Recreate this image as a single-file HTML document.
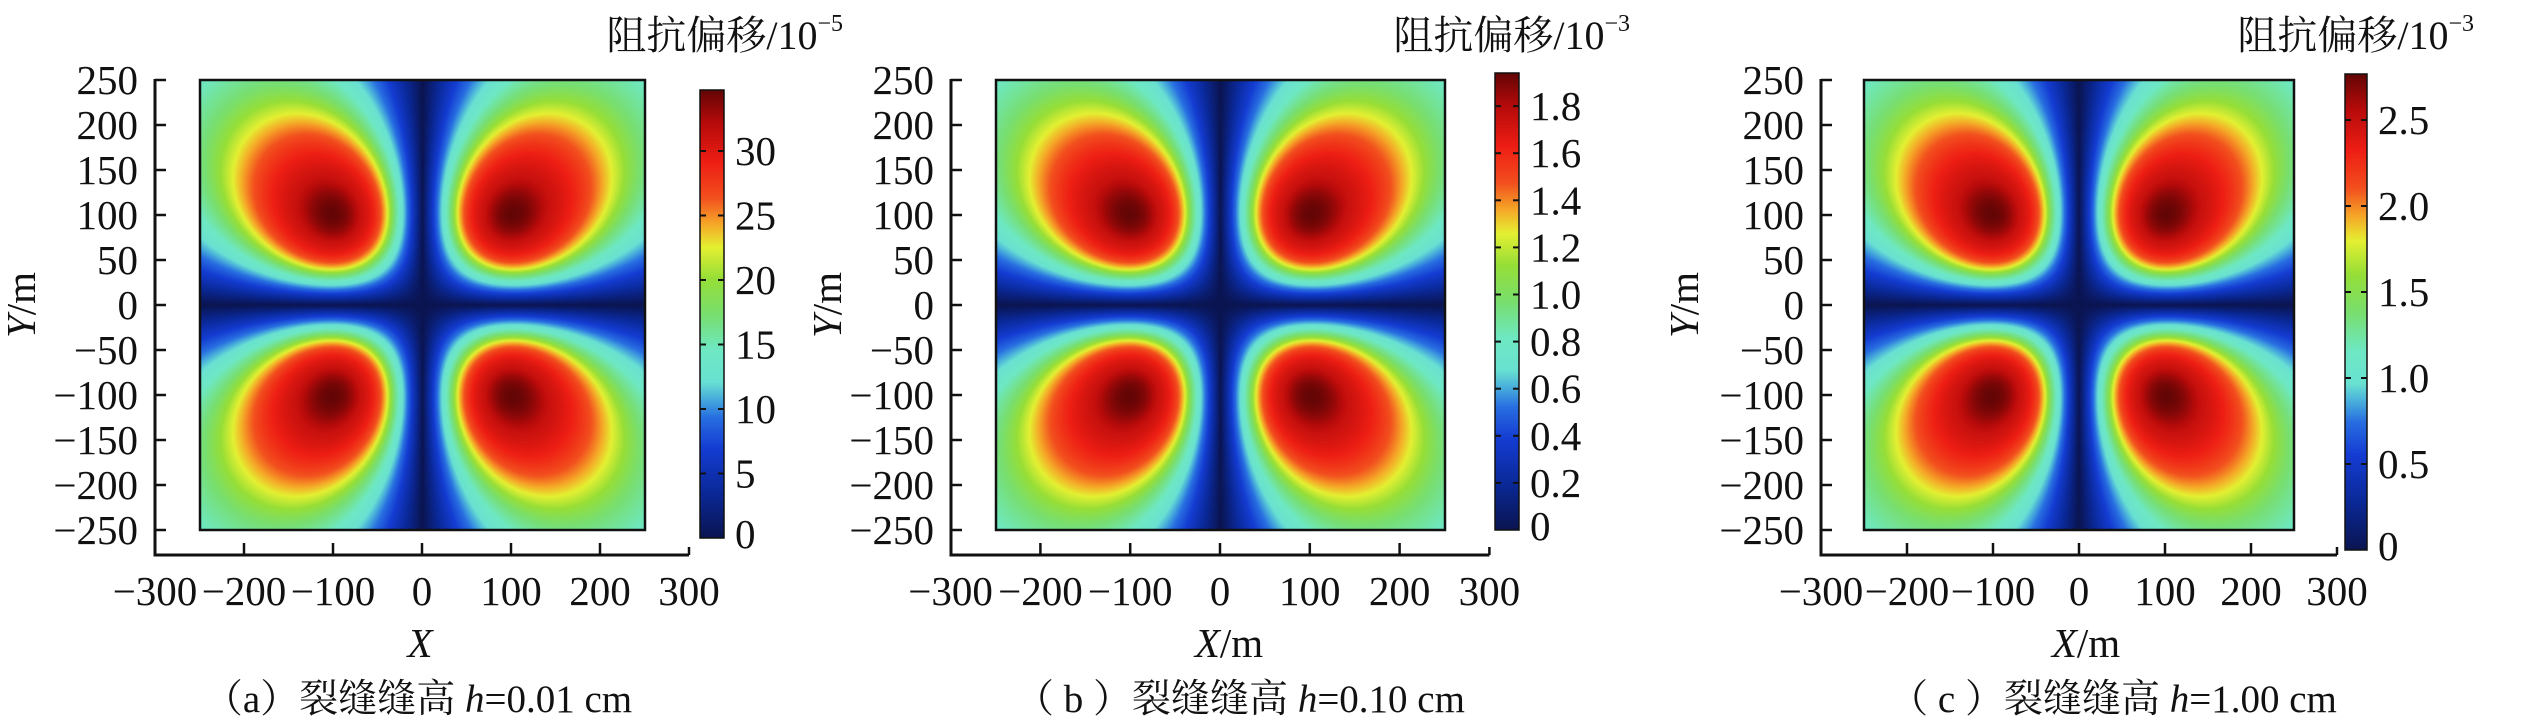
<!DOCTYPE html>
<html><head><meta charset="utf-8">
<style>
html,body{margin:0;padding:0;background:#fff;}
#wrap{position:relative;width:2523px;height:727px;overflow:hidden;background:#fff;}
canvas{position:absolute;}
svg{position:absolute;left:0;top:0;}
</style></head>
<body><div id="wrap">
<canvas id="h0"></canvas><canvas id="h1"></canvas><canvas id="h2"></canvas>
<canvas id="c0"></canvas><canvas id="c1"></canvas><canvas id="c2"></canvas>
<svg id="s" width="2523" height="727" xmlns="http://www.w3.org/2000/svg" font-family="Liberation Serif, DejaVu Serif, Noto Serif CJK SC, serif"></svg>
</div>
<script>
var P=[
 {L:155,x0:422,k:0.89,cbx:700,cbw:24,cbt:90,cbz:538,step:64.5,ticks:["5","10","15","20","25","30"],titleR:843,exp:"−5",yl:22,xl:"X",xlc:420,cap:"（a）裂缝缝高 ",capv:"=0.01 cm",capc:418},
 {L:951,x0:1220,k:0.898,cbx:1495,cbw:24,cbt:73,cbz:530,step:47.1,ticks:["0.2","0.4","0.6","0.8","1.0","1.2","1.4","1.6","1.8"],titleR:1630,exp:"−3",yl:828,xl:"X/m",xlc:1229,cap:"（ b ）裂缝缝高 ",capv:"=0.10 cm",capc:1240},
 {L:1821,x0:2079,k:0.86,cbx:2345,cbw:22,cbt:74,cbz:550,step:86,ticks:["0.5","1.0","1.5","2.0","2.5"],titleR:2474,exp:"−3",yl:1685,xl:"X/m",xlc:2086,cap:"（ c ）裂缝缝高 ",capv:"=1.00 cm",capc:2113}
];
function cl(v){return v<0?0:v>1?1:v;}
var ST=[[0,10,20,80],[0.1,10,40,150],[0.2,20,60,210],[0.27,40,110,225],[0.31,70,170,220],[0.35,105,225,210],[0.42,110,232,195],[0.5,120,222,110],[0.58,150,222,55],[0.65,228,240,50],[0.7,245,170,40],[0.76,242,80,30],[0.84,238,30,20],[0.93,180,10,10],[1,100,5,5]];
function cmap(t){t=cl(t);for(var i=1;i<ST.length;i++){if(t<=ST[i][0]){var a=ST[i-1],b=ST[i],w=(t-a[0])/(b[0]-a[0]);return [Math.round(a[1]+(b[1]-a[1])*w),Math.round(a[2]+(b[2]-a[2])*w),Math.round(a[3]+(b[3]-a[3])*w)];}}return [100,5,5];}
function f(x,y){
 var r=Math.sqrt(x*x+y*y); if(r<1e-6)return 0;
 var s=Math.abs(2*x*y)/(r*r);
 var u=r/135, g=2*u*u/(1+Math.pow(u,3.6))/1.006;
 var v=cl(s*g);
 if(v>0.5&&v<0.9) v+=0.07*Math.sin(Math.PI*(v-0.5)/0.4);
 return cl(v);
}
var y0=305,ky=0.9,S=document.getElementById('s'),svg="";
function line(x1,y1,x2,y2,w){svg+='<line x1="'+x1+'" y1="'+y1+'" x2="'+x2+'" y2="'+y2+'" stroke="#111" stroke-width="'+w+'"/>';}
function txt(x,y,s,sz,anc,extra){svg+='<text x="'+x+'" y="'+y+'" font-size="'+sz+'" fill="#111" text-anchor="'+anc+'" '+(extra||'')+'>'+s+'</text>';}
P.forEach(function(p,i){
 var hx=Math.round(p.x0-250*p.k), hw=Math.round(500*p.k), hy=80, hh=450;
 var c=document.getElementById('h'+i); c.width=hw;c.height=hh;c.style.left=hx+'px';c.style.top=hy+'px';
 var ctx=c.getContext('2d'),im=ctx.createImageData(hw,hh);
 for(var j=0;j<hh;j++)for(var q=0;q<hw;q++){
  var X=-250+500*(q+0.5)/hw, Y=250-500*(j+0.5)/hh;
  var col=cmap(f(X,Y)), o=(j*hw+q)*4;
  im.data[o]=col[0];im.data[o+1]=col[1];im.data[o+2]=col[2];im.data[o+3]=255;}
 ctx.putImageData(im,0,0);
 svg+='<rect x="'+hx+'" y="'+hy+'" width="'+hw+'" height="'+hh+'" fill="none" stroke="#111" stroke-width="2.5"/>';
 var cb=document.getElementById('c'+i),ch=p.cbz-p.cbt; cb.width=p.cbw;cb.height=ch;cb.style.left=p.cbx+'px';cb.style.top=p.cbt+'px';
 var cx=cb.getContext('2d');
 for(var j2=0;j2<ch;j2++){var col2=cmap(1-j2/ch);cx.fillStyle='rgb('+col2.join(',')+')';cx.fillRect(0,j2,p.cbw,1);}
 svg+='<rect x="'+p.cbx+'" y="'+p.cbt+'" width="'+p.cbw+'" height="'+ch+'" fill="none" stroke="#111" stroke-width="1.5"/>';
 var R=p.cbx+p.cbw;
 txt(R+11,p.cbz+10,"0",41,"start");
 p.ticks.forEach(function(t,n){var yy=p.cbz-(n+1)*p.step; line(R-6,yy,R,yy,2); line(p.cbx,yy,p.cbx+6,yy,2); txt(R+11,yy+14,t,41,"start");});
 line(p.L,79,p.L,556.5,3); line(p.L-1.5,555,p.x0+300*p.k,555,3);
 for(var v=-250;v<=250;v+=50){var yy2=y0-v*ky; line(p.L,yy2,p.L+11,yy2,2.5); txt(p.L-17,yy2+14,(v<0?"−":"")+Math.abs(v),41,"end");}
 for(var v2=-300;v2<=300;v2+=100){var xx=p.x0+v2*p.k; if(v2>-300) line(xx,555,xx,v2==300?547:543,2.5); txt(xx,605,(v2<0?"−":"")+Math.abs(v2),41,"middle");}
 svg+='<text x="'+p.titleR+'" y="49" font-size="40" fill="#111" text-anchor="end">阻抗偏移/10<tspan font-size="24" dy="-18">'+p.exp+'</tspan></text>';
 svg+='<text transform="translate('+(p.yl+13)+','+y0+') rotate(-90)" font-size="41" fill="#111" text-anchor="middle"><tspan font-style="italic">Y</tspan>/m</text>';
 if(p.xl=="X") txt(p.xlc,657,'X',41,"middle",'font-style="italic"');
 else svg+='<text x="'+p.xlc+'" y="657" font-size="41" fill="#111" text-anchor="middle"><tspan font-style="italic">X</tspan>/m</text>';
 svg+='<text x="'+p.capc+'" y="712" font-size="39" fill="#111" text-anchor="middle">'+p.cap+'<tspan font-style="italic">h</tspan>'+p.capv+'</text>';
});
S.innerHTML=svg;
</script>
</body></html>
